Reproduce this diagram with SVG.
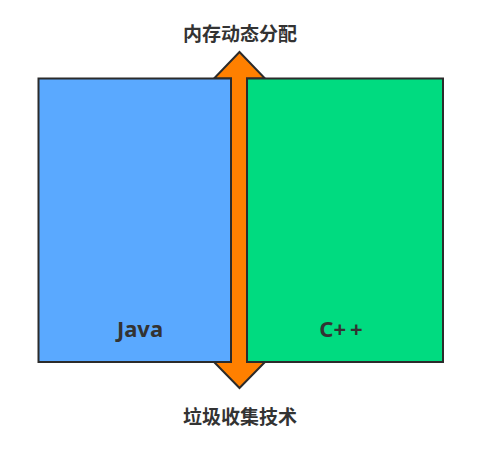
<svg xmlns="http://www.w3.org/2000/svg" width="478" height="450" viewBox="0 0 478 450">
<style>
.box{stroke:#2b2b2b;stroke-width:2}
.lbl{font-family:"Noto Sans","Noto Sans CJK SC",sans-serif;font-weight:bold;fill:#333;text-anchor:middle}
.cap{font-family:"Noto Sans CJK SC","Noto Sans",sans-serif;font-weight:bold;fill:#333;text-anchor:middle;font-size:19px}
</style>
<rect width="478" height="450" fill="#ffffff"/>
<g id="connectors">
<polygon points="239.5,52 265,78.5 247,78.5 247,362 265,362 239.5,388 214,362 231,362 231,78.5 214,78.5" fill="#ff8000" stroke="#2b2b2b" stroke-width="2" stroke-linejoin="miter"/>
</g>
<g id="java">
<rect class="box" x="38.5" y="78.5" width="192.5" height="283.5" fill="#5aa9ff"/>
<text class="lbl" x="140" y="337" font-size="22">Java</text>
</g>
<g id="cpp">
<rect class="box" x="247" y="78.5" width="196" height="283.5" fill="#00db80"/>
<text class="lbl" x="341" y="337" font-size="22">C+<tspan dx="4">+</tspan></text>
</g>
<g id="top-label">
<text class="cap" x="240" y="41">内存动态分配</text>
</g>
<g id="bottom-label">
<text class="cap" x="240" y="424">垃圾收集技术</text>
</g>
</svg>
